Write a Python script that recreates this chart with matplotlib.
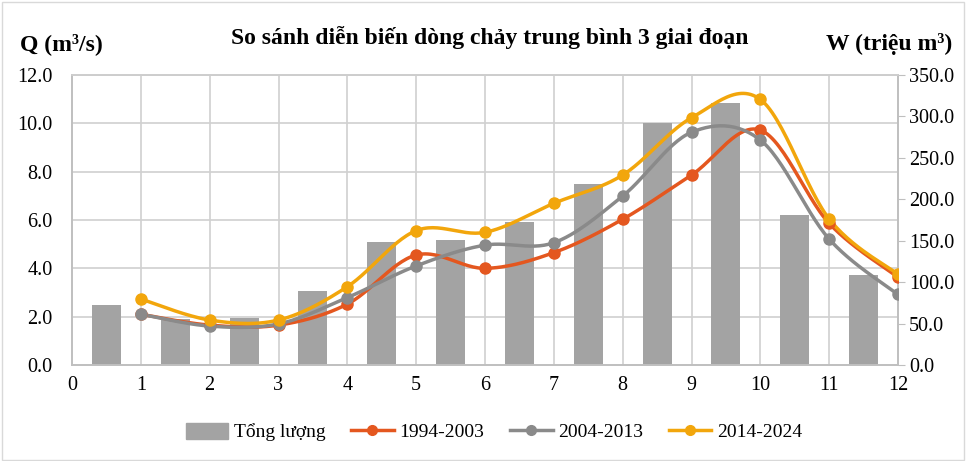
import numpy as np
import matplotlib.pyplot as plt
from matplotlib.patches import Rectangle
from matplotlib.lines import Line2D

plt.rcParams['font.family'] = ['Liberation Serif', 'DejaVu Serif']

months = list(range(1, 13))
tong_luong = [72, 55, 57, 89, 149, 151, 173, 219, 292, 316, 181, 109]
q_1994 = [2.10, 1.65, 1.65, 2.52, 4.55, 4.00, 4.65, 6.03, 7.86, 9.72, 5.86, 3.63]
q_2004 = [2.10, 1.61, 1.70, 2.79, 4.10, 4.96, 5.06, 6.99, 9.63, 9.31, 5.21, 2.92]
q_2014 = [2.73, 1.86, 1.86, 3.24, 5.56, 5.49, 6.69, 7.86, 10.23, 10.99, 6.04, 3.75]

series = [
    ('1994-2003', q_1994, '#E4571F'),
    ('2004-2013', q_2004, '#8A8A8A'),
    ('2014-2024', q_2014, '#F2A60C'),
]
bar_color = '#A3A3A3'


def smooth(x, y, n=30):
    # excel-like smoothed line (catmull-rom as bezier)
    x = np.asarray(x, float)
    y = np.asarray(y, float)
    px = np.concatenate([[x[0]], x, [x[-1]]])
    py = np.concatenate([[y[0]], y, [y[-1]]])
    xs, ys = [], []
    t = np.linspace(0, 1, n)
    for i in range(1, len(px) - 2):
        p0 = np.array([px[i], py[i]])
        p3 = np.array([px[i + 1], py[i + 1]])
        c1 = p0 + (np.array([px[i + 1], py[i + 1]]) - np.array([px[i - 1], py[i - 1]])) / 6
        c2 = p3 - (np.array([px[i + 2], py[i + 2]]) - np.array([px[i], py[i]])) / 6
        b = ((1 - t) ** 3)[:, None] * p0 + (3 * (1 - t) ** 2 * t)[:, None] * c1 \
            + (3 * (1 - t) * t ** 2)[:, None] * c2 + (t ** 3)[:, None] * p3
        xs.extend(b[:, 0])
        ys.extend(b[:, 1])
    return xs, ys


fig = plt.figure(figsize=(9.66, 4.61), dpi=100)
ax = fig.add_axes([72 / 966, 1 - 365 / 461, (898 - 72) / 966, 290 / 461])
ax2 = ax.twinx()

# bars on secondary axis, drawn behind the lines
ax2.bar(np.array(months) - 0.5, tong_luong, width=0.42, color=bar_color, zorder=1)
ax2.set_ylim(0, 350)
ax2.set_yticks(np.arange(0, 351, 50))
ax2.set_yticklabels([f'{v:.1f}' for v in np.arange(0, 351, 50)], fontsize=14.5)
ax2.tick_params(axis='y', length=5, color='#BFBFBF', pad=3)

ax.set_zorder(ax2.get_zorder() + 1)
ax.patch.set_visible(False)
ax2.set_zorder(0)
ax2.patch.set_visible(True)

for name, vals, col in series:
    sx, sy = smooth(months, vals)
    ax.plot(sx, sy, color=col, lw=2.5, zorder=3, solid_capstyle='round')
    ax.plot(months, vals, 'o', color=col, ms=8, zorder=4)

ax.set_xlim(0, 12)
ax.set_ylim(0, 12)
ax.set_xticks(range(0, 13))
ax.set_yticks(np.arange(0, 12.1, 2))
ax.set_yticklabels([f'{v:.1f}' for v in np.arange(0, 12.1, 2)], fontsize=14.5)
ax.set_xticklabels([str(i) for i in range(0, 13)], fontsize=14.5)
ax.tick_params(axis='both', length=0, pad=8)
ax.tick_params(axis='y', pad=14)

# gridlines drawn on the bar axes so they sit behind the bars
for xv in range(1, 12):
    ax2.axvline(xv, color='#D0D0D0', lw=1.2, zorder=0)
for yv in np.arange(2, 12.1, 2):
    ax2.axhline(yv * 350 / 12, color='#D0D0D0', lw=1.2, zorder=0)

for a in (ax, ax2):
    for s in a.spines.values():
        s.set_color('#BFBFBF')
        s.set_linewidth(1.2)
ax.spines['top'].set_color('#D0D0D0')

fig.text(20 / 966, 1 - 44 / 461, 'Q (m³/s)', fontsize=17, fontweight='bold', va='center', ha='left')
fig.text(490 / 966, 1 - 38 / 461, 'So sánh diễn biến dòng chảy trung bình 3 giai đoạn',
         fontsize=17, fontweight='bold', va='center', ha='center')
fig.text(952 / 966, 1 - 44 / 461, 'W (triệu m³)', fontsize=17, fontweight='bold', va='center', ha='right')

handles = [Rectangle((0, 0), 1, 1, color=bar_color)]
labels = ['Tổng lượng']
for name, vals, col in series:
    handles.append(Line2D([0], [0], color=col, lw=2.5, marker='o', ms=7))
    labels.append(name)
fig.legend(handles, labels, loc='center', bbox_to_anchor=(494 / 966, 1 - 432 / 461), ncol=4,
           frameon=False, fontsize=14, handlelength=2.2, columnspacing=1.3, handletextpad=0.3,
           handleheight=0.9)

fig.patches.append(Rectangle((0.002, 0.002), 0.996, 0.994, transform=fig.transFigure,
                             fill=False, edgecolor='#D9D9D9', lw=1))

fig.savefig('out.png', dpi=100)
